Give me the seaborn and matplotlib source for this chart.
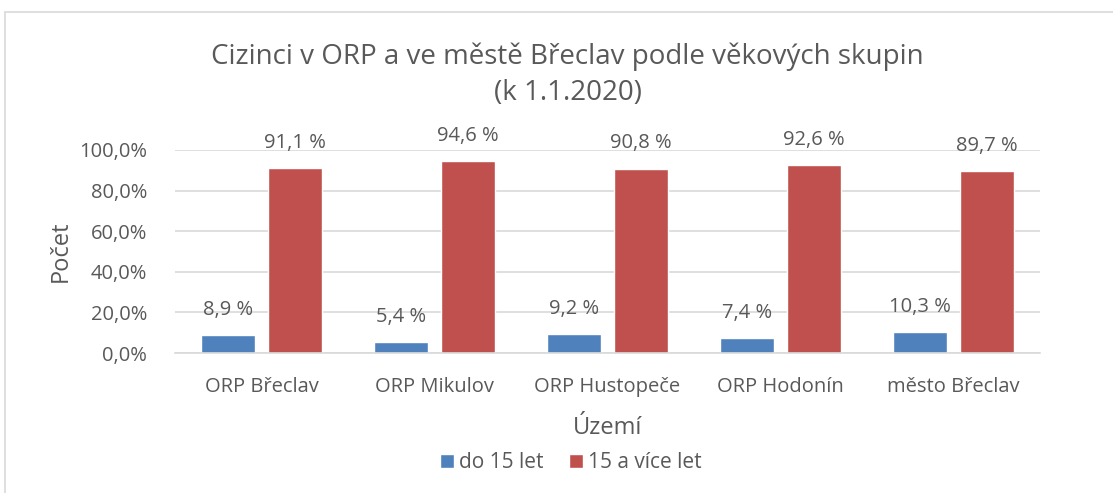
import matplotlib
matplotlib.use("Agg")
import matplotlib.pyplot as plt
import seaborn as sns
import pandas as pd
from matplotlib.patches import Rectangle

categories = ["ORP Břeclav", "ORP Mikulov", "ORP Hustopeče", "ORP Hodonín", "město Břeclav"]
do15 = [8.9, 5.4, 9.2, 7.4, 10.3]
nad15 = [91.1, 94.6, 90.8, 92.6, 89.7]
series_names = ["do 15 let", "15 a více let"]
yticks = [0, 20, 40, 60, 80, 100]

df = pd.DataFrame({
    "Území": categories * 2,
    "Podíl": do15 + nad15,
    "Skupina": [series_names[0]] * len(categories) + [series_names[1]] * len(categories),
})

sns.set_theme(style="white")
plt.rcParams['font.family'] = ['Open Sans', 'DejaVu Sans']
TXT = "#595959"
FS = 14.5

fig = plt.figure(figsize=(11.13, 4.93), dpi=100)
ax = fig.add_axes([175/1113, 1-353/493, (1040-175)/1113, (353-150)/493])

sns.barplot(data=df, x="Území", y="Podíl", hue="Skupina", ax=ax,
            palette=["#4F81BD", "#C0504D"], width=0.775, gap=0.19,
            saturation=1, legend=True)

ax.set_ylim(0, 100)
ax.set_yticks(yticks)
ax.set_yticklabels([f"{v:.1f}%".replace(".", ",") for v in yticks])
ax.yaxis.grid(True, color="#D9D9D9", linewidth=1.2)
ax.set_axisbelow(True)
for s in ["top", "right", "left"]:
    ax.spines[s].set_visible(False)
ax.spines["bottom"].set_color("#D9D9D9")
ax.spines["bottom"].set_linewidth(1.2)
ax.tick_params(axis="both", length=0, labelsize=FS, colors=TXT)
ax.tick_params(axis="y", pad=20)
ax.tick_params(axis="x", pad=17)

for cont in ax.containers:
    labels = [f"{v:.1f} %".replace(".", ",") for v in cont.datavalues]
    ax.bar_label(cont, labels=labels, padding=11, fontsize=FS, color=TXT, clip_on=False)

ax.set_xlabel("Území", fontsize=17, color=TXT, labelpad=14)
ax.set_ylabel("Počet", fontsize=17, color=TXT, labelpad=5)

fig.text(0.510, 1-57/493, "Cizinci v ORP a ve městě Břeclav podle věkových skupin",
         ha="center", va="center", fontsize=20, color=TXT)
fig.text(0.510, 1-93/493, "(k 1.1.2020)", ha="center", va="center", fontsize=20, color=TXT)

handles, labs = ax.get_legend_handles_labels()
ax.legend_.remove()
fig.legend(handles, labs, loc="center", bbox_to_anchor=(0.513, 1-463/493), ncol=2,
           frameon=False, fontsize=15, labelcolor=TXT, handlelength=0.67,
           handleheight=0.67, handletextpad=0.25, columnspacing=1.2)

fig.patches.append(Rectangle((5/1113, -0.1), 1.2, 1-12/493 + 0.1, transform=fig.transFigure,
                             fill=False, edgecolor="#D9D9D9", linewidth=1.2))

fig.savefig("out.png", dpi=100)
